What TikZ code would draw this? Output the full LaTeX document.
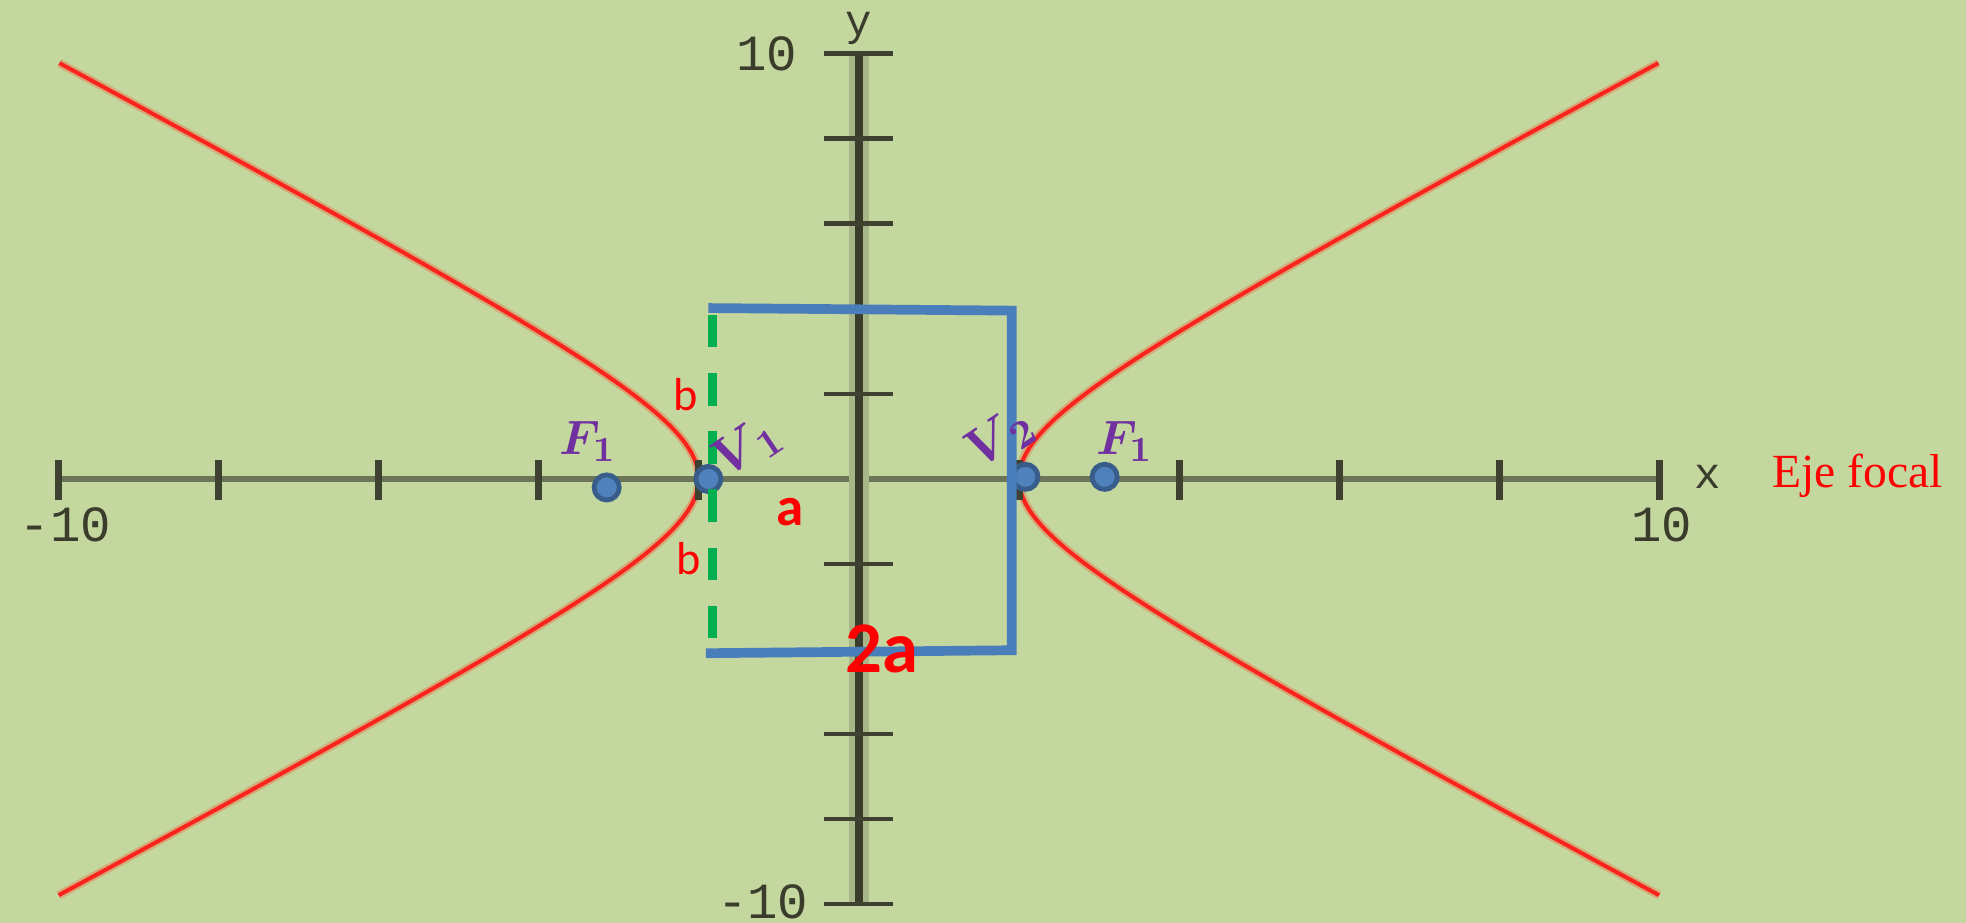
\documentclass[tikz,border=0pt]{standalone}
\usepackage{fontspec}
\usepackage{xcolor}
\usepackage{tikz}
\setmainfont{Liberation Serif}
\newfontfamily\calibrifont{Carlito}
\newfontfamily\axisfont{Liberation Mono}
\definecolor{bggreen}{RGB}{196,215,159}
\definecolor{axisdark}{RGB}{58,60,44}
\definecolor{axishalo}{RGB}{168,183,135}
\definecolor{axisgray}{RGB}{109,117,88}
\definecolor{tickdark}{RGB}{62,64,48}
\definecolor{curvered}{RGB}{250,35,30}
\definecolor{curvehalo}{RGB}{214,168,118}
\definecolor{boxblue}{RGB}{74,126,187}
\definecolor{dotblue}{RGB}{79,129,189}
\definecolor{dotborder}{RGB}{56,93,138}
\definecolor{dashgreen}{RGB}{0,176,80}
\definecolor{labelpurple}{RGB}{112,48,160}
\definecolor{labelred}{RGB}{255,0,0}

\tikzset{
  axisnum/.style={font=\axisfont\fontsize{11.5}{13}\selectfont, text=axisdark, inner sep=0pt},
  axisname/.style={font=\axisfont\fontsize{10}{12}\selectfont, text=axisdark, inner sep=0pt},
  pointdot/.style={circle, fill=dotblue, draw=dotborder, line width=1.1pt, minimum size=5.7pt, inner sep=0pt},
  pointlabel/.style={font=\fontsize{11}{13}\selectfont\boldmath, text=labelpurple, inner sep=0pt},
  redlabel/.style={font=\calibrifont\fontsize{10.5}{12}\selectfont, text=labelred, inner sep=0pt},
  boxline/.style={draw=boxblue, line width=2.2pt},
}

\begin{document}
\begin{tikzpicture}[x=0.6385cm, y=0.339cm]
  % Background
  \fill[bggreen] (-10.728,-10.442) rectangle (13.829,11.268);
  \useasboundingbox (-10.728,-10.442) rectangle (13.829,11.268);

  % Axes
  \coordinate (xmin) at (-10,0);
  \coordinate (xmax) at (10,0);
  \coordinate (ymin) at (0,-10);
  \coordinate (ymax) at (0,10);
  \draw[axisgray, line width=1.5pt] (xmin) -- (xmax);
  \draw[axishalo, line width=4.5pt] (ymin) -- (ymax);
  \draw[axisdark, line width=1.8pt] (ymin) -- (ymax);

  % Hyperbola branches
  \foreach \s in {-1,1} {
    \draw[curvehalo, line width=1.9pt] plot[domain=-2.292:2.292, samples=120, variable=\t] ({\s*2*cosh(\t)},{2*sinh(\t)});
    \draw[curvered, line width=0.9pt] plot[domain=-2.292:2.292, samples=120, variable=\t] ({\s*2*cosh(\t)},{2*sinh(\t)});
  }

  % Ticks
  \foreach \k in {-10,-8,-6,-4,-2,2,4,6,8,10} {
    \draw[tickdark, line width=1.6pt] (\k,-0.5) -- (\k,0.45);
    \draw[tickdark, line width=1.1pt] (-0.44,\k) -- (0.42,\k);
  }

  % Axis numbers
  \node[axisnum] (ytop) at (-1.15,10.0) {10};
  \node[axisname] (ylab) at (0,10.6) {y};
  \node[axisnum] (ybot) at (-1.2,-9.95) {-10};
  \node[axisnum] (xleft) at (-9.91,-1.08) {-10};
  \node[axisnum] (xright) at (10.03,-1.08) {10};
  \node[axisname] (xlab) at (10.6,0.05) {x};
  \node[anchor=base west, inner sep=0pt, text=labelred, font=\fontsize{10.8}{13}\selectfont] (focal) at (11.40,-0.2) {Eje focal};

  % Vertices and foci
  \node[pointdot] (F1) at (-3.15,-0.2) {};
  \node[pointdot] (V1) at (-1.88,0) {};
  \node[pointdot] (V2) at (2.08,0.05) {};
  \node[pointdot] (F2) at (3.07,0.05) {};

  % Box 2a x 2b
  \coordinate (boxTL) at (-1.88,4.02);
  \coordinate (boxTR) at (1.91,3.96);
  \coordinate (boxBR) at (1.91,-4.03);
  \coordinate (boxBL) at (-1.91,-4.10);
  \draw[boxline] (boxBL) -- (boxBR) -- (boxTR) -- (boxTL);

  % Semi-axis b
  \coordinate (btop) at (-1.83,3.86);
  \coordinate (bbot) at (-1.83,-3.75);
  \draw[dashgreen, line width=1.9pt, dash pattern=on 7.4pt off 5.8pt] (btop) -- (bbot);

  % Labels
  \node[pointlabel] (F1lab) at (-3.38,0.88) {$F_1$};
  \node[pointlabel] (F2lab) at (3.32,0.88) {$F_1$};
  \node[pointlabel, font=\fontsize{12.5}{14}\selectfont\boldmath, rotate=34] (V1lab) at (-1.39,0.74) {$V_{\,1}$};
  \node[pointlabel, font=\fontsize{12.5}{14}\selectfont\boldmath, rotate=34] (V2lab) at (1.77,0.96) {$V_{\,2}$};
  \node[redlabel] (btoplab) at (-2.16,1.98) {b};
  \node[redlabel] (bbotlab) at (-2.13,-1.88) {b};
  \node[redlabel, font=\calibrifont\bfseries\fontsize{12.5}{14}\selectfont] (alab) at (-0.86,-0.77) {a};
  \node[redlabel, font=\calibrifont\bfseries\fontsize{16.5}{18}\selectfont] (twoalab) at (0.29,-4.0) {2a};
\end{tikzpicture}
\end{document}
